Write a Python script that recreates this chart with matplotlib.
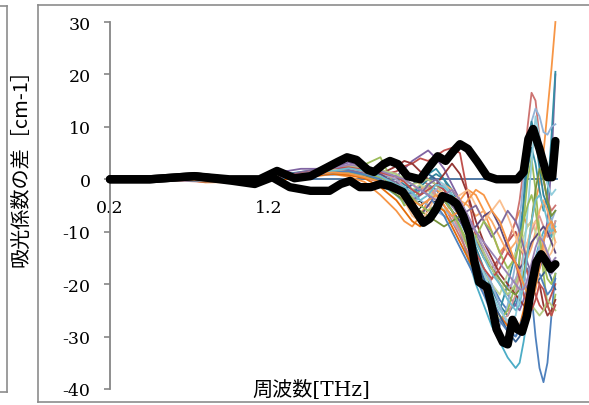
import matplotlib
matplotlib.use('Agg')
import matplotlib.pyplot as plt
from matplotlib.lines import Line2D

# frequency grid [THz] shared by the thin series
freq = [0.2, 0.4, 0.6, 0.8, 1.0, 1.2, 1.3, 1.4, 1.5, 1.6, 1.7, 1.8, 1.9,
        2.0, 2.05, 2.1, 2.15, 2.2, 2.25, 2.3, 2.35, 2.4, 2.45, 2.5, 2.55, 2.6, 2.65, 2.7, 2.75,
        2.775, 2.8, 2.825, 2.85, 2.875, 2.9, 2.925, 2.95, 2.975, 3.0]

s01 = [0, 0.1, 0.1, -0.4, -0.3, 0.2, 0.5, 0.8, 1.0, 1.5, 1.8, 1.2, 0.5,
       -1.5, -3, -4, -2, -1, -2, -4, -6, -8, -11, -14, -17, -20, -23, -25, -24,
       -22, -18, -17, -22, -30, -36, -38.7, -35, -26, -18]
s02 = [0, 0, 0.2, -0.2, -0.5, 0, 0.3, 0.5, 1.2, 1.0, 2.0, 1.5, -1,
       -3, -4.5, -5, -3, -2, -1, -3, -6, -10, -15, -20, -24, -28, -31, -34, -36,
       -35, -31, -26, -20, -15, -12, -10, -9, -11, -8]
s03 = [0, 0.2, 0.3, -0.6, -0.5, 0.8, 0.5, 0.2, 0.6, 1.0, 0.5, -0.5, -3,
       -6, -8, -9, -7, -4, -2, -3, -5, -4, -2, -3, -6, -10, -14, -12, -8,
       -6, -7, -9, -8, -4, -1, 5, 13, 21, 30]
s04 = [0, 0.1, 0.2, 0, -0.2, 0.5, 1.5, 2.0, 2.0, 2.2, 3.2, 2.5, 1.5,
       0.5, 2, 3.5, 4.5, 5.5, 4, 2, -1, -4, -7, -10, -14, -17, -20, -22, -24,
       -25, -23, -20, -18, -16, -14, -12, -8, 3, 20]
s05 = [0, -0.1, 0.1, -0.3, -0.2, 0.3, 0.8, 1.0, 1.5, 2.0, 1.5, 0.8, 0.5,
       -2, -4, -3, -1, 1, 2, 0, -3, -7, -11, -15, -19, -22, -25, -20, -14,
       -10, -5, 2, 6, 3, -2, -6, -3, 8, 20.5]
s06 = [0, 0.1, 0.3, 0.2, 0, 0.5, 1.0, 1.2, 1.8, 2.5, 2.0, 1.0, 0.8,
       1.5, 2.5, 3, 4, 3.5, 4.5, 5.5, 6, 5, -3, -11, -15, -17, -15, -12, -10,
       -12, -15, -18, -20, -22, -24, -25, -24, -22, -20]
s07 = [0, 0, -0.2, -0.5, -0.4, 0, 0.5, 0.3, 0.8, 1.2, 1.0, 0.2, -0.5,
       -1, -2, -1, 0, -1, -3, -5, -8, -11, -14, -18, -21, -19, -15, -12, -8,
       -4, 2, 10, 16.5, 15, 8, 0, -4, -6, -5]
s08 = [0, 0.1, 0, -0.3, -0.6, -0.2, 0.2, 0.6, 1.0, 0.8, 1.2, 0.5, 0,
       -1, -2.5, -4, -3, -2, -4, -6, -7, -9, -13, -17, -22, -26, -28, -24, -16,
       -8, 0, 6, 11, 13.5, 12, 9, 8.5, 10, 10.5]
s09 = [0, 0, 0.1, 0.2, 0.1, 0.6, 1.0, 1.4, 1.8, 2.2, 2.5, 1.8, 1.0,
       0, -1, -2, -1.5, 0, 1, 0, -2, -5, -9, -13, -17, -21, -24, -26, -23,
       -15, -4, 6, 11, 8, 2, -3, -5, -8, -10]
s10 = [0, 0, 0.2, 0.3, 0.1, 0.5, 0.8, 1.2, 1.6, 2.0, 2.5, 2.8, 4.2,
       -2, -5, -4, -2, -1, -3, -4, -6, -9, -12, -16, -20, -24, -27, -25, -20,
       -15, -8, 0, 4, -2, -10, -18, -24, -26, -22]
s11 = [0, 0.1, 0.2, -0.1, -0.3, 0.2, 0.6, 1.0, 1.3, 1.5, 2.0, 1.5, 0.5,
       -1, 0, 1, -1, -3, -2, -1, -2, -4, -5, -7, -6, -8, -11, -14, -12,
       -10, -12, -15, -13, -10, -6, -4, -6, -9, -12]
s12 = [0, 0.1, 0.1, -0.2, -0.2, 0.4, 0.7, 1.0, 1.5, 1.8, 2.2, 1.6, 1.0,
       2.5, 3.5, 3, 1.5, 0, -1, 1, 3, 1, -3, -8, -12, -15, -18, -20, -22,
       -23, -24, -25, -22, -18, -20, -24, -26, -25, -23]
s13 = [0, 0, 0.1, -0.1, -0.2, 0.2, 0.4, 0.9, 1.2, 1.6, 2.5, 2.0, 1.2,
       0, -1.5, -3, -5, -4, -2, -1, -3, -6, -8, -10, -13, -16, -19, -21, -19,
       -17, -18, -20, -19, -16, -13, -12, -14, -16, -15]
s14 = [0, 0.1, 0, -0.2, -0.4, 0, 0.2, 0.5, 0.9, 1.3, 1.8, 1.4, 0.6,
       -2, -3, -2, -1, -2, -4, -6, -5, -7, -11, -15, -18, -20, -22, -18, -14,
       -13, -11, -9, -8, -10, -13, -15, -14, -12, -10]
s15 = [0, 0, -0.1, -0.3, -0.3, -0.2, 0.3, 0.6, 1.0, 1.4, 2.0, 1.0, 0.2,
       -1, -2, -3, -4, -5, -6, -7, -8, -10, -12, -14, -17, -20, -24, -28, -30,
       -29, -26, -22, -18, -15, -13, -11, -10, -8, -6]
s16 = [0, 0, 0.1, 0, -0.2, 0.3, 0.6, 1.0, 1.4, 1.9, 2.6, 1.8, 1.2,
       0.5, 0, -1, -2, -1.5, -3, -5, -7, -10, -13, -17, -21, -25, -27, -26, -22,
       -18, -14, -12, -10, -8, -7, -9, -11, -10, -8]
s17 = [0, 0.1, 0.2, 0.1, 0, 0.4, 0.9, 1.2, 1.0, 1.5, 2.0, 1.5, 1.0,
       -1, -3, -6, -7, -5, -3, -4, -6, -8, -10, -9, -7, -6, -9, -13, -16,
       -17, -16, -14, -12, -11, -10, -9, -10, -12, -14]
s18 = [0, 0, 0, -0.3, -0.5, -0.2, 0.1, 0.3, 0.8, 1.2, 1.5, 0.8, -0.5,
       -3, -4, -5, -6, -7, -8, -9, -8, -7, -9, -12, -15, -17, -19, -21, -22,
       -21, -18, -14, -8, -2, 2, 0, -4, -7, -6]
s19 = [0, 0.1, 0.1, -0.2, -0.4, 0.1, 0.5, 0.8, 1.2, 1.8, 2.2, 2.0, 1.5,
       1, 0, -2, -3, -1, 0, -1, -3, -6, -10, -14, -18, -22, -25, -27, -26,
       -22, -15, -6, 3, 12, 8, 2, -1, -3, -2]
s20 = [0, 0, 0.1, -0.5, -0.6, -0.3, 0, 0.4, 0.7, 1.0, 0.8, 0.2, -1.5,
       -4, -6, -8, -9, -7, -5, -6, -9, -12, -15, -18, -21, -24, -26, -28, -29,
       -28, -25, -21, -18, -16, -14, -13, -15, -17, -16]
s21 = [0, 0, 0, -0.2, -0.3, 0, 0.4, 0.7, 1.1, 1.6, 1.6, 1.0, 0.3,
       -1.5, -2, -1, 0, 1, 0, -2, -4, -7, -11, -15, -19, -23, -26, -29, -31,
       -30, -28, -25, -22, -20, -19, -18, -17, -19, -21]
s22 = [0, 0.1, 0.2, 0, -0.1, 0.4, 0.8, 1.1, 1.5, 1.9, 2.4, 2.2, 1.8,
       1, 0, -1, -0.5, 0, -1, -3, -5, -7, -9, -11, -14, -17, -20, -22, -20,
       -18, -20, -22, -24, -25, -26, -25, -23, -24, -25]
s23 = [0, 0.1, 0, -0.3, -0.2, 0.3, 0.6, 0.9, 1.3, 1.7, 1.9, 1.2, 0.2,
       -2, -4, -7, -8, -6, -3, -2, -4, -3, -2, -5, -8, -6, -4, -7, -11,
       -13, -14, -12, -9, -8, -10, -13, -15, -14, -12]
s24 = [0, 0, 0.1, -0.1, -0.3, 0.1, 0.7, 1.4, 1.9, 2.4, 1.8, 1.1, 0.4,
       -0.5, -2, -4, -3, -1, 0, -2, -5, -7, -6, -5, -8, -11, -9, -6, -8,
       -10, -13, -16, -18, -19, -17, -15, -16, -18, -17]
s25 = [0, 0.1, 0.2, 0.1, -0.1, 0.3, 0.6, 0.9, 1.4, 1.6, 1.3, 0.9, 0.4,
       -1, -2, -3.5, -5, -6, -5, -4, -6, -9, -13, -11, -8, -10, -14, -17, -15,
       -12, -8, -5, -3, -6, -11, -16, -19, -20, -18]
s26 = [0, 0, -0.1, -0.4, -0.5, -0.1, 0.3, 0.6, 0.9, 1.3, 1.5, 0.9, 0,
       -2, -3, -2.5, -2, -3, -5, -7, -10, -13, -16, -19, -22, -25, -27, -29, -30,
       -28, -26, -24, -21, -19, -18, -20, -22, -21, -19]
s27 = [0, 0.1, 0.1, -0.1, -0.2, 0.2, 0.6, 1.1, 1.6, 2.1, 2.3, 1.8, 1.3,
       0.5, -0.5, -2, -3, -2, -1, -2, -4, -6, -10, -14, -17, -19, -17, -14, -16,
       -19, -22, -24, -25, -23, -20, -21, -24, -26, -24]
s28 = [0, 0, 0, -0.2, -0.3, 0.1, 0.4, 0.8, 1.1, 1.6, 2.1, 1.6, 0.6,
       -1, -1.5, -2.5, -4, -3, -1, -1.5, -3, -5, -8, -12, -15, -18, -20, -23, -25,
       -24, -20, -14, -8, -4, -3, -5, -8, -10, -9]
s29 = [0, 0.1, 0.1, -0.3, -0.4, 0.2, 0.5, 0.7, 1.0, 1.3, 1.1, 0.4, -0.5,
       -2, -3, -4, -5, -4, -3, -5, -7, -6, -4, -2, -3, -6, -8, -12, -16,
       -18, -20, -22, -23, -21, -17, -12, -9, -8, -10]
s30 = [0, 0, 0.1, 0, -0.1, 0.2, 0.5, 1.0, 1.6, 2.1, 2.8, 2.4, 1.6,
       0.5, 0, -1, -2, -3, -4, -3, -2, -4, -7, -10, -12, -14, -16, -18, -20,
       -21, -21, -19, -16, -13, -11, -12, -14, -16, -15]

series = [s01, s02, s03, s04, s05, s06, s07, s08, s09, s10, s11, s12, s13, s14, s15,
          s16, s17, s18, s19, s20, s21, s22, s23, s24, s25, s26, s27, s28, s29, s30]
colors = ['#4F81BD', '#4BACC6', '#F79646', '#8064A2', '#358EA5', '#C0504D',
          '#CD7371', '#93B3D7', '#31859C', '#9BBB59', '#F9AB6B', '#943634',
          '#B2A1C7', '#C3D69B', '#95B3D7', '#D99694', '#5F497A', '#77933C',
          '#92CDDC', '#E36C09', '#366092', '#B3CB82', '#FABF8F', '#7F6A9C',
          '#9BBB59', '#4F81BD', '#C0504D', '#6FBDD1', '#F79646', '#9983B5']

# thick black envelopes
up_x = [0.2, 0.45, 0.73, 0.95, 1.14, 1.25, 1.36, 1.46, 1.63, 1.69, 1.75, 1.82, 1.86,
        1.92, 1.96, 2.01, 2.07, 2.15, 2.21, 2.26, 2.31, 2.36, 2.40, 2.45, 2.51, 2.57,
        2.63, 2.76, 2.80, 2.83, 2.86, 2.90, 2.95, 2.98, 3.0]
up_y = [0, 0, 0.6, 0, 0, 1.6, 0.2, 0.6, 3.3, 4.2, 3.7, 1.8, 1.4,
        2.9, 3.5, 2.9, 0.6, 0, 2.5, 4.4, 3.5, 5.4, 6.7, 5.8, 3.3, 0.6,
        0, 0, 1.4, 7.7, 9.6, 5.8, 0.4, 0.4, 7.3]
lo_x = [0.2, 0.45, 0.73, 0.97, 1.11, 1.22, 1.33, 1.46, 1.58, 1.65, 1.71, 1.77, 1.84,
        1.90, 1.96, 2.04, 2.10, 2.17, 2.21, 2.25, 2.29, 2.34, 2.38, 2.42, 2.46, 2.49,
        2.52, 2.57, 2.60, 2.63, 2.67, 2.70, 2.73, 2.76, 2.79, 2.82, 2.85, 2.88, 2.91,
        2.94, 2.97, 3.0]
lo_y = [0, 0, 0.6, -0.3, -0.9, 0.4, -1.5, -2.2, -2.2, -0.9, -0.3, -1.5, -1.5,
        -0.9, -1.3, -2.4, -5.1, -8.3, -7.5, -5.7, -3.2, -3.8, -4.7, -7.0, -10.4, -15.6,
        -19.6, -20.6, -24.2, -28.6, -31.1, -31.5, -26.8, -28.6, -29.1, -26.1, -20.4, -15.8, -14.3,
        -15.6, -17.1, -16.2]

xticks = [0.2, 1.2, 2.2]
yticks = [-40, -30, -20, -10, 0, 10, 20, 30]

W, H = 589, 406
fig = plt.figure(figsize=(W / 100, H / 100), dpi=100)
ax = fig.add_axes([110 / W, 1 - 390 / H, 447 / W, 367 / H])

for vals, c in zip(series, colors):
    ax.plot(freq, vals, color=c, lw=1.3, solid_joinstyle='round', zorder=2, clip_on=False)
for bx, by in [(up_x, up_y), (lo_x, lo_y)]:
    ax.plot(bx, by, color='black', lw=6, solid_joinstyle='round',
            solid_capstyle='round', zorder=5, clip_on=False)

ax.set_xlim(0.2, 3.01)
ax.set_ylim(-40, 30)
for s in ['top', 'right']:
    ax.spines[s].set_visible(False)
ax.spines['left'].set_color('#868686')
ax.spines['left'].set_linewidth(1.3)
ax.spines['bottom'].set_position(('data', 0))
ax.spines['bottom'].set_color('#44709E')
ax.spines['bottom'].set_linewidth(1.3)
ax.spines['bottom'].set_zorder(1)

serif = 'DejaVu Serif'
ax.set_yticks(yticks)
ax.set_yticklabels([str(v) for v in yticks], family=serif, fontsize=12.5)
ax.tick_params(axis='y', direction='out', length=4, width=1.2, color='#868686', pad=10)
ax.set_xticks(xticks)
ax.set_xticklabels([str(v) for v in xticks], family=serif, fontsize=12.5)
ax.tick_params(axis='x', length=0, pad=14)

fig.text(311 / W, 1 - 390 / H, '周波数[THz]', family=['DejaVu Serif', 'Noto Sans CJK JP'],
         fontsize=14.5, ha='center', va='center')
fig.text(21 / W, 1 - 163 / H, '吸光係数の差［cm-1］', family=['Noto Sans CJK JP', 'DejaVu Sans'],
         fontsize=14.5, rotation=90, ha='center', va='center')

# chart frames (Excel chart objects)
fc = '#8c8c8c'
def seg(x0, y0, x1, y1):
    fig.add_artist(Line2D([x0 / W, x1 / W], [1 - y0 / H, 1 - y1 / H],
                          color=fc, lw=1.2, transform=fig.transFigure))
seg(0, 7, 7, 7)
seg(7, 7, 7, 393)
seg(0, 393, 7, 393)
seg(38, 6, 589, 6)
seg(38, 6, 38, 403)
seg(38, 403, 589, 403)

fig.savefig('out.png', dpi=100)
